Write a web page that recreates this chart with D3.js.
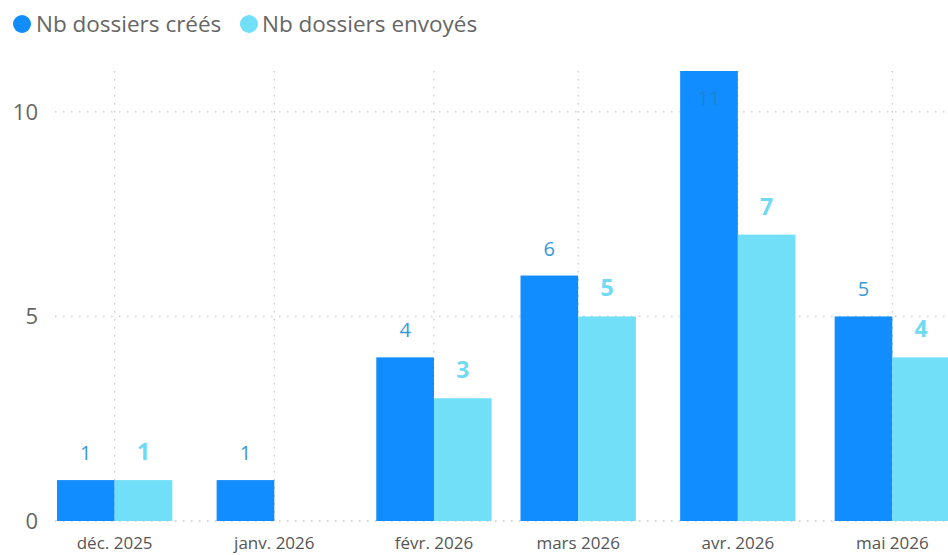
<!DOCTYPE html>
<html>
<head>
<meta charset="utf-8">
<script src="https://cdn.jsdelivr.net/npm/d3@7"></script>
<style>
  html, body { margin: 0; padding: 0; background: #fff; }
  svg { display: block; font-family: "Open Sans", "Noto Sans", sans-serif; }
</style>
</head>
<body>
<svg id="chart" width="948" height="555"></svg>
<script>
// Monthly counts of files created vs. files sent
const months = ["2025-12-01", "2026-01-01", "2026-02-01", "2026-03-01", "2026-04-01", "2026-05-01"];
const monthLabels = ["déc. 2025", "janv. 2026", "févr. 2026", "mars 2026", "avr. 2026", "mai 2026"];
const crees = [1, 1, 4, 6, 11, 5];
const envoyes = [1, null, 3, 5, 7, 4];
const seriesNames = ["Nb dossiers créés", "Nb dossiers envoyés"];
const seriesColors = ["#118DFF", "#72DFF8"];
const yTicks = [0, 5, 10];

const svg = d3.select("#chart");
const W = 948, H = 555;
const plotTop = 71, plotBottom = 521;
const DAY = 864e5;
const dates = months.map(d => new Date(d + "T00:00:00Z"));

// time scale: each month sits at its real date, padded by 11 days each side
const x = d3.scaleUtc()
  .domain([new Date(+dates[0] - 11 * DAY), new Date(+dates[dates.length - 1] + 11 * DAY)])
  .range([58, 949]);
const y = d3.scaleLinear().domain([0, 11]).range([plotBottom, plotTop]);
const barDays = 11.2;
const bw = x(new Date(+dates[0] + barDays * DAY)) - x(dates[0]);

// horizontal grid
const gridG = svg.append("g");
gridG.selectAll("line.h").data(yTicks).join("line")
  .attr("class", "h")
  .attr("x1", 55).attr("x2", W)
  .attr("y1", d => y(d)).attr("y2", d => y(d))
  .attr("stroke", "#c8c8c8").attr("stroke-width", 1.3)
  .attr("stroke-dasharray", "1.5,6.5");
// vertical grid at month ticks
gridG.selectAll("line.v").data(dates).join("line")
  .attr("class", "v")
  .attr("x1", d => x(d)).attr("x2", d => x(d))
  .attr("y1", plotTop).attr("y2", plotBottom)
  .attr("stroke", "#c8c8c8").attr("stroke-width", 1.3)
  .attr("stroke-dasharray", "1.5,6.5");

// y axis labels
svg.append("g").selectAll("text").data(yTicks).join("text")
  .attr("x", 38).attr("y", d => y(d)).attr("dy", "0.36em")
  .attr("text-anchor", "end")
  .attr("font-size", 22).attr("fill", "#666")
  .text(d => d);

// x axis labels
svg.append("g").selectAll("text").data(dates).join("text")
  .attr("x", d => x(d)).attr("y", 549)
  .attr("text-anchor", "middle")
  .attr("font-size", 17).attr("fill", "#555")
  .text((d, i) => monthLabels[i]);

// bars
const rows = dates.map((d, i) => ({ date: d, values: [crees[i], envoyes[i]] }));
const barsG = svg.append("g");
[0, 1].forEach(s => {
  const data = rows.filter(r => r.values[s] != null);
  barsG.selectAll("rect.s" + s).data(data).join("rect")
    .attr("class", "s" + s)
    .attr("x", r => s === 0 ? x(r.date) - bw : x(r.date))
    .attr("y", r => y(r.values[s]))
    .attr("width", bw)
    .attr("height", r => y(0) - y(r.values[s]))
    .attr("fill", seriesColors[s]);
});

// data labels
const labelsG = svg.append("g");
rows.forEach(r => {
  r.values.forEach((v, s) => {
    if (v == null) return;
    const cx = s === 0 ? x(r.date) - bw / 2 : x(r.date) + bw / 2;
    const inside = y(v) - 30 < plotTop - 10;
    labelsG.append("text")
      .attr("x", cx)
      .attr("y", inside ? y(v) + 34 : y(v) - 20)
      .attr("text-anchor", "middle")
      .attr("font-size", s === 0 ? 20 : 23)
      .attr("font-weight", s === 0 ? 400 : 700)
      .attr("fill", inside ? "#1a84cc" : (s === 0 ? "#3a9ad9" : "#6fdaf4"))
      .text(v);
  });
});

// legend
const legend = svg.append("g");
const legendItems = [{ cx: 22, tx: 36 }, { cx: 249, tx: 262 }];
seriesNames.forEach((name, i) => {
  legend.append("circle").attr("cx", legendItems[i].cx).attr("cy", 24).attr("r", 9)
    .attr("fill", seriesColors[i]);
  legend.append("text").attr("x", legendItems[i].tx).attr("y", 24).attr("dy", "0.35em")
    .attr("font-size", 22.5).attr("fill", "#666").text(name);
});
</script>
</body>
</html>
